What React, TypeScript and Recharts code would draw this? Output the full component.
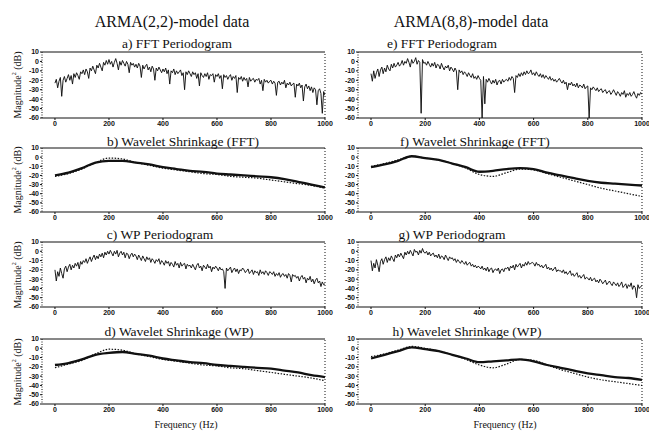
import { LineChart, Line, XAxis, YAxis, ReferenceLine } from 'recharts'

// frequency grid of the periodograms (Hz), one row per 100 Hz
const FREQ = [
  0, 5, 10, 15, 20, 25, 30, 35, 40, 45, 50, 55, 60, 65, 70, 75, 80, 85, 90, 95,
  100, 105, 110, 115, 120, 125, 130, 135, 140, 145, 150, 155, 160, 165, 170, 175, 180, 185, 190, 195,
  200, 205, 210, 215, 220, 225, 230, 235, 240, 245, 250, 255, 260, 265, 270, 275, 280, 285, 290, 295,
  300, 305, 310, 315, 320, 325, 330, 335, 340, 345, 350, 355, 360, 365, 370, 375, 380, 385, 390, 395,
  400, 405, 410, 415, 420, 425, 430, 435, 440, 445, 450, 455, 460, 465, 470, 475, 480, 485, 490, 495,
  500, 505, 510, 515, 520, 525, 530, 535, 540, 545, 550, 555, 560, 565, 570, 575, 580, 585, 590, 595,
  600, 605, 610, 615, 620, 625, 630, 635, 640, 645, 650, 655, 660, 665, 670, 675, 680, 685, 690, 695,
  700, 705, 710, 715, 720, 725, 730, 735, 740, 745, 750, 755, 760, 765, 770, 775, 780, 785, 790, 795,
  800, 805, 810, 815, 820, 825, 830, 835, 840, 845, 850, 855, 860, 865, 870, 875, 880, 885, 890, 895,
  900, 905, 910, 915, 920, 925, 930, 935, 940, 945, 950, 955, 960, 965, 970, 975, 980, 985, 990, 995,
  1000,
]
const FREQ_SMOOTH = [0, 50, 100, 150, 200, 250, 300, 350, 400, 450, 500, 550, 600, 650, 700, 750, 800, 850, 900, 950, 1000]
const X_TICKS = [0, 200, 400, 600, 800, 1000]
const Y_TICKS = [10, 0, -10, -20, -30, -40, -50, -60]

// a) ARMA(2,2) FFT periodogram (dB)
const ARMA22_FFT = [
  -23, -19, -28, -21, -17, -37, -20, -16, -22, -18, -14, -20, -15, -24, -13, -17, -12, -15, -19, -11,
  -13, -9, -14, -8, -11, -18, -7, -10, -5, -9, -13, -4, -7, -2, -6, -10, -1, -4, 1, -3,
  2, -3, 0, -6, -1, 3, -2, -9, 0, -4, 1, -2, -5, 0, -3, -12, -1, -4, -2, -6,
  -3, -7, -2, -5, -17, -4, -8, -5, -3, -9, -6, -11, -5, -8, -20, -7, -10, -6, -9, -12,
  -8, -11, -7, -13, -9, -24, -10, -12, -8, -14, -10, -13, -11, -9, -15, -12, -30, -11, -14, -10,
  -13, -16, -11, -14, -12, -18, -13, -26, -12, -15, -17, -13, -16, -12, -19, -14, -15, -13, -22, -14,
  -16, -13, -18, -15, -29, -14, -17, -15, -19, -16, -14, -20, -16, -18, -15, -33, -17, -19, -16, -21,
  -17, -20, -18, -27, -17, -21, -19, -18, -22, -19, -20, -18, -24, -20, -31, -19, -22, -20, -23, -21,
  -20, -24, -21, -23, -36, -22, -21, -25, -22, -24, -20, -28, -23, -25, -22, -26, -24, -23, -38, -24,
  -26, -23, -28, -25, -42, -27, -24, -29, -26, -31, -27, -33, -28, -30, -46, -31, -29, -34, -55, -32,
  -36,
]
// c) ARMA(2,2) WP periodogram (dB)
const ARMA22_WP = [
  -20, -32, -22, -27, -18, -24, -29, -19, -16, -22, -17, -14, -20, -15, -18, -13, -16, -12, -19, -11,
  -14, -10, -12, -8, -13, -9, -6, -11, -7, -4, -9, -5, -8, -3, -6, -2, -7, -1, -4, 0,
  -3, 1, -2, -5, 0, -3, 1, -6, -2, 0, -4, -1, -7, -2, -3, -8, -4, -2, -6, -3,
  -5, -9, -4, -7, -10, -5, -8, -11, -6, -9, -7, -12, -8, -10, -13, -9, -11, -8, -14, -10,
  -12, -15, -10, -13, -11, -16, -12, -14, -17, -11, -15, -13, -18, -12, -16, -14, -13, -19, -14, -16,
  -15, -18, -14, -17, -20, -15, -13, -18, -16, -21, -15, -17, -19, -14, -18, -16, -22, -17, -19, -16,
  -18, -21, -17, -20, -19, -22, -40, -18, -21, -19, -17, -23, -20, -18, -22, -19, -24, -20, -21, -18,
  -20, -23, -21, -19, -24, -22, -20, -25, -21, -23, -22, -26, -20, -24, -22, -25, -21, -23, -26, -22,
  -23, -25, -22, -27, -24, -26, -23, -28, -25, -24, -27, -25, -29, -24, -26, -33, -25, -27, -26, -29,
  -27, -32, -28, -26, -30, -28, -34, -29, -31, -27, -33, -30, -35, -31, -29, -34, -32, -38, -33, -36,
  -35,
]
// e) ARMA(8,8) FFT periodogram (dB)
const ARMA88_FFT = [
  -13, -21, -10, -18, -12, -8, -16, -9, -6, -13, -7, -11, -4, -8, -10, -3, -7, -2, -6, -4,
  -1, -5, -3, 1, -4, 0, -2, 3, -1, -6, 2, -2, 0, 4, -3, 1, -1, -55, 2, -2,
  -1, -4, 0, -3, -6, -2, -5, -1, -7, -3, -4, -8, -2, -6, -9, -5, -7, -4, -10, -6,
  -8, -11, -7, -10, -30, -9, -12, -10, -14, -11, -13, -16, -12, -15, -17, -13, -18, -16, -19, -15,
  -18, -20, -60, -16, -45, -19, -22, -18, -21, -24, -20, -23, -19, -25, -21, -20, -24, -19, -22, -20,
  -19, -21, -17, -20, -16, -18, -33, -15, -17, -13, -16, -12, -15, -11, -14, -10, -13, -12, -9, -14,
  -12, -15, -11, -14, -16, -13, -17, -14, -18, -15, -17, -19, -16, -20, -18, -21, -19, -22, -20, -18,
  -21, -23, -20, -24, -22, -30, -23, -25, -22, -26, -24, -27, -23, -28, -25, -26, -28, -24, -29, -27,
  -26, -60, -28, -30, -27, -29, -31, -28, -32, -30, -29, -33, -31, -30, -34, -32, -31, -35, -33, -30,
  -33, -36, -32, -34, -37, -33, -35, -31, -38, -34, -36, -33, -37, -35, -32, -36, -39, -34, -36, -33,
  -35,
]
// g) ARMA(8,8) WP periodogram (dB)
const ARMA88_WP = [
  -10, -21, -13, -18, -9, -15, -22, -11, -8, -14, -9, -6, -12, -7, -10, -5, -8, -11, -4, -7,
  -3, -6, -2, -5, -8, -1, -4, 0, -3, 1, -2, -5, 2, -1, 0, -4, 1, -2, 3, -1,
  -2, 0, -4, -1, -5, -3, -2, -6, -4, -7, -3, -8, -5, -6, -9, -4, -7, -10, -6, -8,
  -7, -10, -8, -12, -9, -11, -13, -10, -12, -14, -11, -15, -13, -12, -16, -14, -17, -15, -18, -16,
  -17, -19, -16, -20, -18, -21, -17, -22, -19, -18, -23, -20, -19, -21, -18, -24, -20, -19, -22, -18,
  -19, -17, -21, -16, -18, -15, -20, -14, -17, -15, -13, -18, -14, -16, -12, -15, -11, -14, -13, -12,
  -13, -16, -12, -15, -14, -17, -15, -18, -16, -14, -19, -17, -20, -18, -21, -19, -17, -22, -20, -21,
  -21, -23, -20, -24, -22, -25, -23, -21, -26, -24, -27, -25, -23, -28, -26, -29, -27, -25, -30, -28,
  -29, -31, -28, -32, -30, -29, -33, -31, -34, -30, -32, -35, -33, -31, -36, -34, -32, -35, -37, -33,
  -35, -37, -34, -38, -36, -33, -39, -37, -35, -40, -36, -38, -34, -41, -37, -39, -50, -36, -40, -38,
  -37,
]

// wavelet shrinkage estimates (solid) and true spectra (dotted), dB
const B_EST = [-20, -17, -12, -6, -4, -4, -6, -8, -11, -13, -15, -16, -18, -19, -20, -21, -22, -24, -27, -30, -33]
const B_TRUE = [-21, -18, -13, -6, -1, -2, -6, -9, -12, -14, -16, -18, -19, -21, -22, -23, -25, -27, -29, -31, -34]
const D_EST = [-18, -16, -12, -7, -5, -4, -6, -8, -11, -13, -15, -16, -18, -19, -20, -21, -22, -24, -26, -29, -31]
const D_TRUE = [-21, -17, -13, -6, -1, -2, -6, -9, -12, -14, -16, -18, -19, -21, -22, -24, -26, -28, -30, -32, -35]
const F_EST = [-11, -8, -4, 1, -1, -3, -7, -11, -16, -15, -13, -12, -13, -17, -20, -23, -26, -28, -29, -30, -31]
const F_TRUE = [-10, -7, -3, 1, -1, -3, -7, -12, -19, -21, -17, -13, -14, -18, -22, -26, -30, -34, -37, -40, -43]
const H_EST = [-11, -7, -3, 1, -1, -3, -7, -11, -15, -14, -13, -12, -14, -18, -21, -24, -27, -29, -31, -32, -34]
const H_TRUE = [-9, -6, -2, 2, 0, -3, -7, -12, -18, -21, -17, -12, -13, -18, -23, -27, -31, -34, -36, -38, -40]

const pgram = (vals: number[]) => FREQ.map((f, i) => ({ f, v: vals[i] }))
const smooth = (est: number[], tru: number[]) => FREQ_SMOOTH.map((f, i) => ({ f, est: est[i], tru: tru[i] }))

const SERIF = '"Liberation Serif", "Times New Roman", serif'
const TICK = { fontSize: 7, fontFamily: 'Liberation Sans', fontWeight: 700, fill: '#111' }

const Panel = ({ x, y, w, h, data, kind }: any) => (
  <div style={{ position: 'absolute', left: x - 40, top: y - 6 }}>
    <LineChart width={w + 52} height={h + 18} data={data} margin={{ top: 6, right: 12, left: 0, bottom: 0 }}>
      <XAxis dataKey="f" type="number" domain={[-48, 1000]} ticks={X_TICKS} interval={0} height={12}
        tickSize={2} tickMargin={1} tick={TICK} stroke="#111" allowDataOverflow />
      <YAxis type="number" domain={[-60, 10]} ticks={Y_TICKS} interval={0} width={40}
        tickSize={2} tickMargin={1} tick={TICK} stroke="#111" axisLine={{ strokeDasharray: '1 1.5' }} allowDataOverflow />
      <ReferenceLine y={10} stroke="#111" />
      <ReferenceLine x={1000} stroke="#111" strokeDasharray="1 2" />
      {kind === 'pgram' ? (
        <Line dataKey="v" type="linear" stroke="#111" strokeWidth={0.95} dot={false} isAnimationActive={false} />
      ) : null}
      {kind === 'smooth' ? (
        <Line dataKey="tru" type="monotone" stroke="#111" strokeWidth={1.2} strokeDasharray="1.5 1.5" dot={false} isAnimationActive={false} />
      ) : null}
      {kind === 'smooth' ? (
        <Line dataKey="est" type="monotone" stroke="#111" strokeWidth={2.3} dot={false} isAnimationActive={false} />
      ) : null}
    </LineChart>
  </div>
)

const Text = ({ x, y, size, children }: any) => (
  <div style={{ position: 'absolute', left: x, top: y, transform: 'translate(-50%, -50%)', fontFamily: SERIF, fontSize: size, lineHeight: 1, whiteSpace: 'nowrap', color: '#111' }}>
    {children}
  </div>
)

const YLabel = ({ y }: any) => (
  <div style={{ position: 'absolute', left: 17, top: y, transform: 'translate(-50%, -50%) rotate(-90deg)', fontFamily: SERIF, fontSize: 10, lineHeight: 1, whiteSpace: 'nowrap', color: '#111' }}>
    Magnitude<sup style={{ fontSize: 6 }}>2</sup> (dB)
  </div>
)

const ROWS = [
  { top: 52, h: 66 },
  { top: 148, h: 64 },
  { top: 242, h: 65 },
  { top: 339, h: 65 },
]

export default function App() {
  return (
    <div style={{ position: 'absolute', left: 0, top: 0, width: 649, height: 432, background: '#fff', overflow: 'hidden' }}>
      <Text x={172} y={22} size={16}>ARMA(2,2)-model data</Text>
      <Text x={471} y={22} size={16}>ARMA(8,8)-model data</Text>

      <Text x={177} y={44} size={13.5}>a) FFT Periodogram</Text>
      <Text x={183} y={142} size={13.5}>b) Wavelet Shrinkage (FFT)</Text>
      <Text x={160} y={235} size={13.5}>c) WP Periodogram</Text>
      <Text x={179} y={332} size={13.5}>d) Wavelet Shrinkage (WP)</Text>
      <Text x={442} y={44} size={13.5}>e) FFT Periodogram</Text>
      <Text x={475} y={142} size={13.5}>f) Wavelet Shrinkage (FFT)</Text>
      <Text x={452} y={235} size={13.5}>g) WP Periodogram</Text>
      <Text x={467} y={332} size={13.5}>h) Wavelet Shrinkage (WP)</Text>

      {ROWS.map((r) => <YLabel key={r.top} y={r.top + r.h / 2} />)}

      <Panel x={42} y={ROWS[0].top} w={283} h={ROWS[0].h} data={pgram(ARMA22_FFT)} kind="pgram" />
      <Panel x={42} y={ROWS[1].top} w={283} h={ROWS[1].h} data={smooth(B_EST, B_TRUE)} kind="smooth" />
      <Panel x={42} y={ROWS[2].top} w={283} h={ROWS[2].h} data={pgram(ARMA22_WP)} kind="pgram" />
      <Panel x={42} y={ROWS[3].top} w={283} h={ROWS[3].h} data={smooth(D_EST, D_TRUE)} kind="smooth" />
      <Panel x={358} y={ROWS[0].top} w={284} h={ROWS[0].h} data={pgram(ARMA88_FFT)} kind="pgram" />
      <Panel x={358} y={ROWS[1].top} w={284} h={ROWS[1].h} data={smooth(F_EST, F_TRUE)} kind="smooth" />
      <Panel x={358} y={ROWS[2].top} w={284} h={ROWS[2].h} data={pgram(ARMA88_WP)} kind="pgram" />
      <Panel x={358} y={ROWS[3].top} w={284} h={ROWS[3].h} data={smooth(H_EST, H_TRUE)} kind="smooth" />

      <Text x={186} y={425} size={10}>Frequency (Hz)</Text>
      <Text x={505} y={425} size={10}>Frequency (Hz)</Text>
    </div>
  )
}
